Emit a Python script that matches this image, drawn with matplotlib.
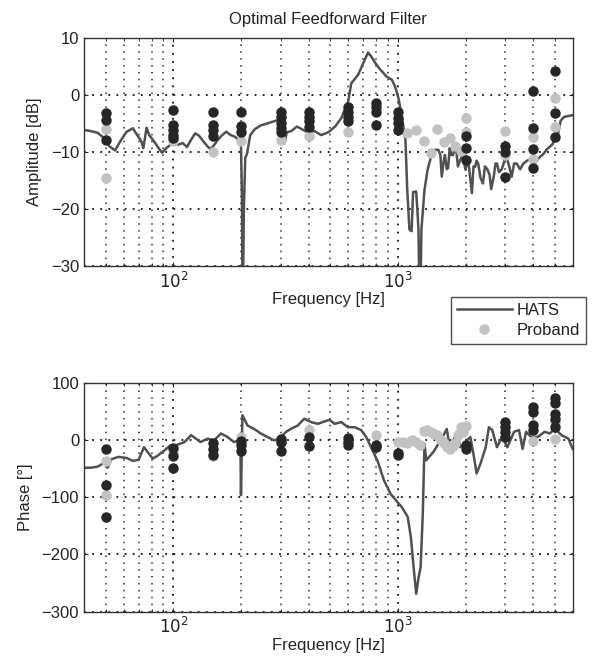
import numpy as np
import matplotlib
matplotlib.use('Agg')
import matplotlib.pyplot as plt
from matplotlib.ticker import FixedLocator, NullFormatter

plt.rcParams['font.family'] = ['Liberation Sans', 'DejaVu Sans']

# HATS filter, amplitude (dB) vs frequency (Hz)
amp_f = [40, 43, 46, 49, 52, 55, 58, 62, 66, 69, 72, 73.5, 76, 78, 82, 86, 89, 93, 97,
         100, 105, 110, 115, 120, 125, 130, 136, 142, 147, 152, 158, 165, 172, 180, 188,
         195, 200, 202, 203.5, 206, 209, 213, 220, 230, 245, 260, 280, 295, 305, 312, 320,
         335, 355, 375, 400, 425, 455, 490, 525, 560, 600, 620, 665, 700, 736, 760, 795,
         830, 890, 940, 970, 1005, 1040, 1080, 1100, 1125, 1150, 1168, 1205, 1220, 1234,
         1254, 1272, 1313, 1355, 1400, 1455, 1515, 1545, 1567, 1600, 1619, 1650, 1672,
         1700, 1730, 1758, 1790, 1816, 1850, 1875, 1937, 1970, 2000, 2035, 2070, 2135,
         2170, 2206, 2240, 2277, 2330, 2390, 2440, 2500, 2560, 2600, 2670, 2720, 2760,
         2820, 2900, 2980, 3050, 3130, 3210, 3290, 3380, 3500, 3620, 3750, 3870, 4000,
         4150, 4300, 4450, 4600, 4760, 4900, 5000, 5150, 5300, 5500, 6000]
amp_db = [-6.1, -6.3, -6.6, -7.5, -9.0, -9.7, -8.1, -6.4, -5.8, -7.0, -8.1, -9.3, -5.7,
          -7.0, -8.1, -9.3, -10.1, -9.3, -8.7,
          -8.4, -8.7, -8.4, -9.1, -7.8, -6.7, -7.1, -8.1, -9.0, -9.5, -8.7, -7.8, -7.0,
          -6.4, -7.0, -7.3,
          -7.8, -8.7, -17.8, -40, -20, -11, -10.2, -7.0, -6.0, -5.3, -5.0, -4.6, -4.3,
          -4.5, -8.5, -6.5,
          -6.3, -5.5, -6.0, -6.6, -6.3, -7.0, -6.5, -5.5, -4.0, -1.1, 2.1, 3.6, 5.6, 7.5,
          6.8, 5.6,
          4.6, 3.3, 2.7, 1.6, -0.5, -3.7, -7.8, -16.6, -23.6, -23.9, -17.0, -16.9, -20.0,
          -23.6,
          -40, -23.6, -16.6, -13.1, -11.0, -9.6, -9.6, -10.5, -14.3, -11.5, -10.5, -13.0,
          -12.8,
          -9.3, -10.5, -10.5, -9.3, -9.5, -12.5, -11.8, -10.5, -12.0, -13.1, -11.5, -12.5,
          -17.2,
          -12.5, -12.6, -11.5, -12.0, -14.5, -15.5, -12.5, -13.0, -14.0, -16.5, -14.3,
          -12.0, -12.0,
          -13.5, -13.0, -11.5, -11.0, -12.5, -14.3, -12.0, -12.0, -13.0, -12.0, -11.5,
          -11.3, -12.0,
          -11.5, -10.8, -10.3, -9.5, -9.0, -8.5, -7.3, -7.0, -4.5, -3.8, -3.5]

# HATS filter, phase (deg) vs frequency (Hz)
ph_f = [40, 43, 46, 49, 51, 53, 57, 62, 66, 70, 74, 77, 81, 85, 91, 97, 102, 112, 120,
        126, 132, 142, 152, 163, 174, 186, 196, 199, 200, 201.5, 203, 214, 229, 245, 262,
        281, 296, 318, 333, 358, 383, 410, 440, 470, 496, 522, 559, 599, 642, 686, 722,
        759, 815, 866, 928, 994, 1040, 1105, 1142, 1178, 1206, 1236, 1262, 1290, 1313,
        1337, 1377, 1440, 1515, 1595, 1650, 1708, 1768, 1830, 1895, 1996, 2101, 2180,
        2240, 2330, 2460, 2540, 2630, 2760, 2910, 3070, 3290, 3460, 3590, 3720, 3920,
        4200, 4500, 4740, 5000, 5360, 5740, 6000]
ph_deg = [-48, -48, -46, -40, -48, -33, -29, -31, -36, -34, -12, -21, -32, -27, -18, -9,
          -9, -3, 9,
          3, -3, 3, 0, 12, 6, -3, 0, -20, -96, -30, 44, 26, 20, 12, 6,
          0, 3, 15, 20, 26, 38, 32, 29, 33, 36, 29, 32, 23, 23, 18, 6,
          -12, -38, -70, -94, -108, -117, -134, -170, -228, -269, -240, -222, -129, -6,
          -35, -29, -20, -6, 9, 20, -18, 0, 15, -12, -3, 6, -29,
          -58, -41, -12, 23, 18, -12, 6, -12, 15, 18, -15, 15, 6,
          6, 15, 12, 20, 9, 3, -15]

# dark markers (measured points per frequency)
dk_amp_f = [50, 50, 50, 100, 100, 100, 100, 100, 150, 150, 150, 150, 200, 200, 200,
            300, 300, 300, 300, 300, 400, 400, 400, 400, 600, 600, 600, 600,
            800, 800, 800, 800, 1000, 1000, 1000, 1000, 2000, 2000, 2000,
            3000, 3000, 3000, 4000, 4000, 4000, 4000, 5000, 5000, 5000]
dk_amp = [-3.2, -4.3, -7.9, -2.6, -5.2, -6.1, -7.0, -7.6, -2.9, -5.2, -6.1, -7.1,
          -3.0, -5.4, -6.4, -2.9, -3.9, -4.9, -5.8, -6.4, -2.9, -3.8, -4.6, -5.5,
          -2.0, -2.9, -3.9, -4.6, -1.4, -2.0, -2.9, -5.2, -2.9, -4.0, -4.9, -6.1,
          -7.2, -9.3, -11.3, -8.9, -9.9, -14.3, 0.75, -5.8, -9.5, -12.8, 4.3, -3.05, -7.4]

dk_ph_f = [50, 50, 50, 100, 100, 100, 150, 150, 150, 200, 200, 200, 300, 300, 300,
           400, 400, 600, 600, 600, 800, 800, 1000, 1000, 2000, 2000,
           3000, 3000, 3000, 3000, 4000, 4000, 4000, 4000, 5000, 5000, 5000, 5000, 5000]
dk_ph = [-16, -79, -134, -13, -28, -48, -5, -15, -26, -1, -9, -18, 3, -3, -18,
         5, -10, 4, -3, -9, -8, -12, -22, -26, -9, -15,
         33, 24, 15, 6, 59, 50, 27, 18, 74, 65, 47, 38, 24]

# Proband points
pb_amp_f = [50, 50, 100, 150, 200, 300, 400, 600, 1100, 1200, 1300, 1400, 1500, 1600,
            1700, 1800, 1900, 2000, 2000, 3000, 3000, 4000, 4000, 5000, 5000]
pb_amp = [-5.9, -14.6, -8.0, -9.9, -8.1, -7.8, -7.1, -6.4, -6.7, -6.1, -8.0, -10.1,
          -6.0, -8.3, -7.5, -9.0, -9.8, -4.0, -6.5, -6.2, -10.5, -7.4, -11.2, -0.5, -5.6]

pb_ph_f = [50, 50, 100, 150, 200, 300, 400, 800, 1000, 1050, 1100, 1150, 1200, 1250,
           1300, 1350, 1400, 1450, 1500, 1550, 1600, 1650, 1700, 1750, 1800, 1850,
           1900, 1950, 2000, 4000, 5000, 5000]
pb_ph = [-36, -95, -20, -27, 6, -5, 19, 9, -3, -3, -5, 0, -3, -8,
         17, 18, 15, 12, 9, 0, -5, -12, -15, -10, -5, 10,
         23, 15, 26, -2, 3, 30]

line_c = '#505050'
dark_c = '#262626'
grey_c = '#c2c2c2'
dots = (0, (1, 3.5))

fig = plt.figure(figsize=(5.95, 6.64), dpi=100)
ax1 = fig.add_axes([84/595, 1-266/664, (572.7-84)/595, (266-38.3)/664])
ax2 = fig.add_axes([84/595, 1-611.5/664, (572.7-84)/595, (611.5-383.3)/664])


def style(ax, ylim, yticks):
    ax.set_xscale('log')
    ax.set_xlim(40, 6000)
    ax.set_ylim(*ylim)
    ax.set_yticks(yticks)
    ax.xaxis.set_major_locator(FixedLocator([100, 1000]))
    ax.xaxis.set_minor_locator(FixedLocator([50, 60, 70, 80, 90, 200, 300, 400, 500, 600,
                                             700, 800, 900, 2000, 3000, 4000, 5000]))
    ax.xaxis.set_minor_formatter(NullFormatter())
    ax.set_xticklabels(['$10^2$', '$10^3$'])
    ax.grid(True, which='major', linestyle=dots, color='#111111', linewidth=1.3)
    ax.grid(True, which='minor', axis='x', linestyle=dots, color='#2a2a2a', linewidth=1.1)
    ax.tick_params(which='both', direction='in', top=True, right=True, labelsize=12,
                   colors='#222222', length=3)
    ax.tick_params(which='minor', length=2)
    for s in ax.spines.values():
        s.set_color('#333333')
        s.set_linewidth(1.0)


style(ax1, (-30, 10), [-30, -20, -10, 0, 10])
style(ax2, (-300, 100), [-300, -200, -100, 0, 100])

h_line, = ax1.plot(amp_f, amp_db, color=line_c, lw=1.8, label='HATS')
ax1.plot(pb_amp_f, pb_amp, 'o', color=grey_c, ms=6.5, mec=grey_c)
ax1.plot(dk_amp_f, dk_amp, 'o', color=dark_c, ms=6.5, mec=dark_c)

ax2.plot(ph_f, ph_deg, color=line_c, lw=1.8)
h_pb, = ax2.plot(pb_ph_f, pb_ph, 'o', color=grey_c, ms=6.5, mec=grey_c, label='Proband')
ax2.plot(dk_ph_f, dk_ph, 'o', color=dark_c, ms=6.5, mec=dark_c)

ax1.set_title('Optimal Feedforward Filter', fontsize=12, color='#222222', pad=10)
ax1.set_ylabel('Amplitude [dB]', fontsize=12, color='#222222', labelpad=6)
ax1.set_xlabel('Frequency [Hz]', fontsize=12, color='#222222', labelpad=1)
ax2.set_ylabel('Phase [°]', fontsize=12, color='#222222', labelpad=6)
ax2.set_xlabel('Frequency [Hz]', fontsize=12, color='#222222', labelpad=1)

leg = fig.legend([h_line, h_pb], ['HATS', 'Proband'], loc='upper left',
                 bbox_to_anchor=(451/595, 1-297/664), fontsize=12, frameon=True,
                 fancybox=False, edgecolor='#222222', handlelength=3.3,
                 borderaxespad=0, borderpad=0.35, labelspacing=0.3, handletextpad=0.3)
leg.get_frame().set_linewidth(1.0)
for t in leg.get_texts():
    t.set_color('#222222')

fig.savefig('out.png', dpi=100)
